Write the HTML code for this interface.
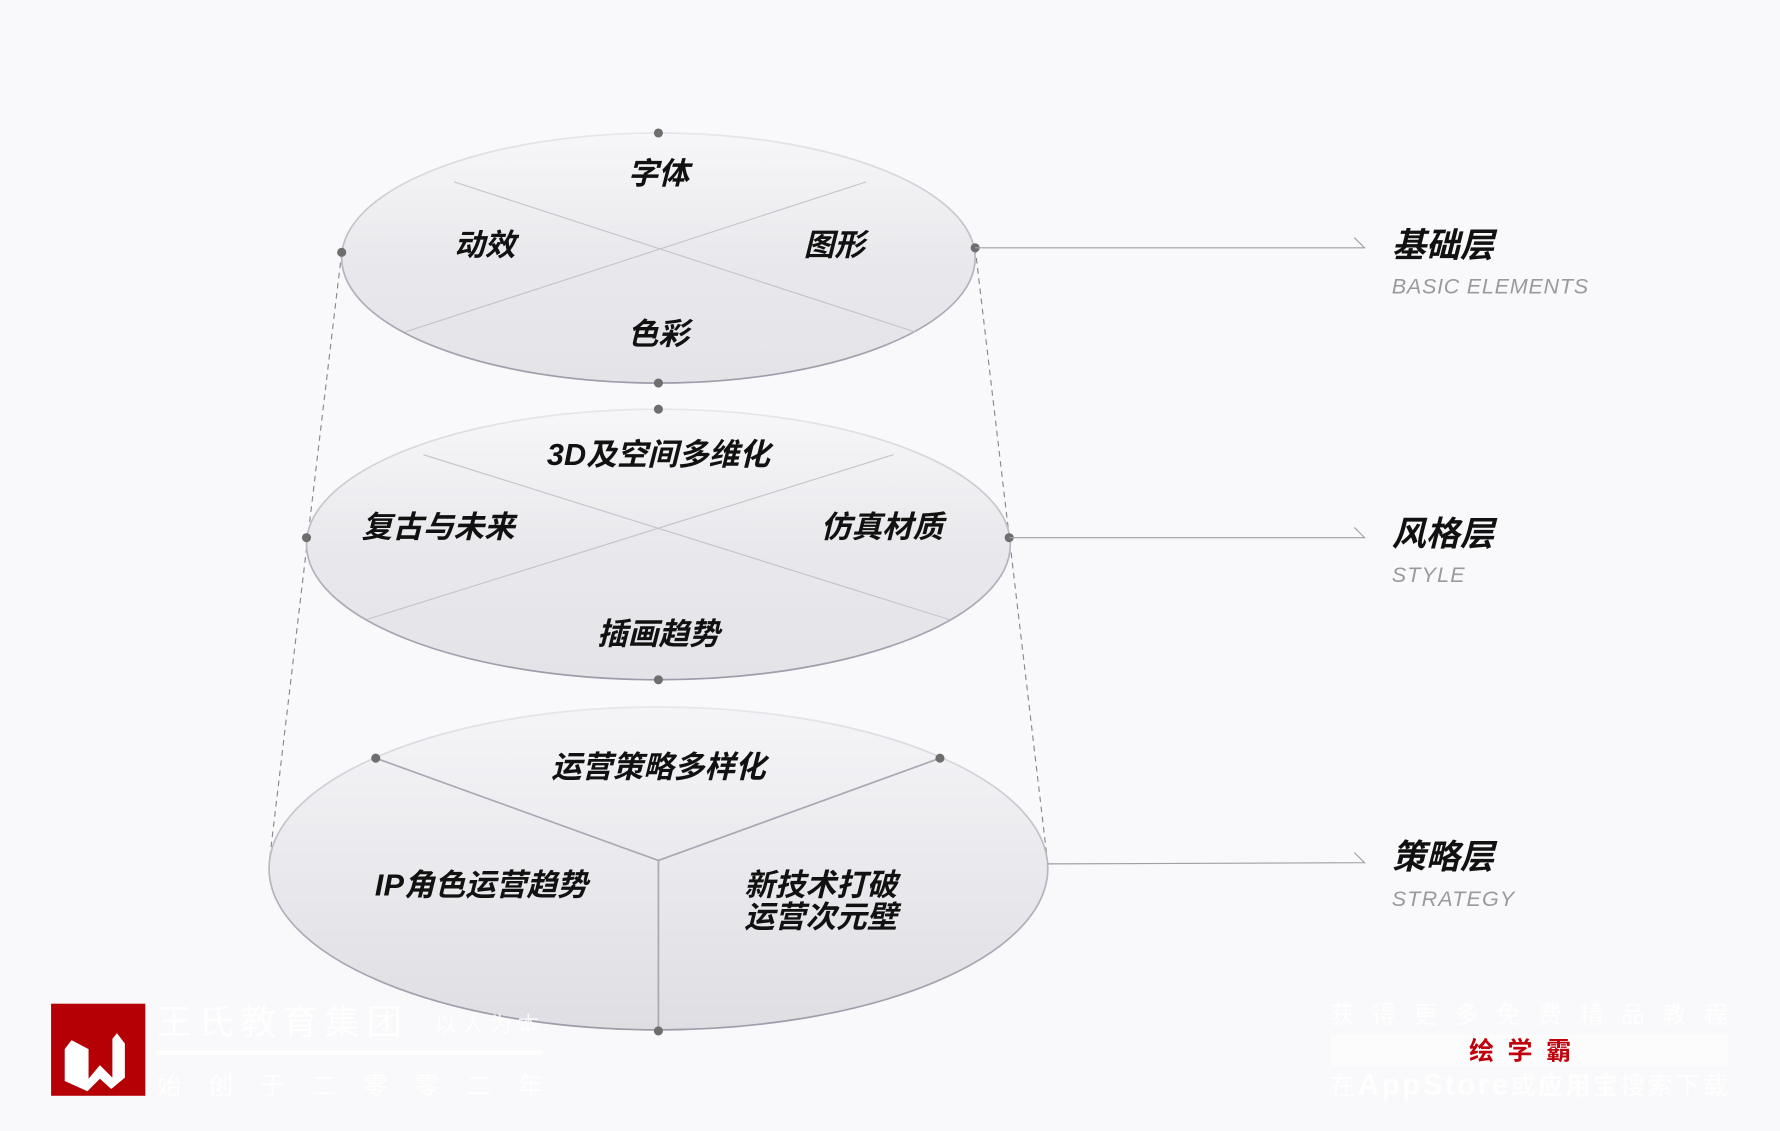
<!DOCTYPE html>
<html><head><meta charset="utf-8"><style>
html,body{margin:0;padding:0;background:#f9f9fb;}
svg{display:block}
.t{font-family:"Liberation Sans","Noto Sans CJK SC",sans-serif;font-weight:bold;font-style:italic;fill:#111;text-anchor:middle}
.h{font-family:"Liberation Sans","Noto Sans CJK SC",sans-serif;font-weight:bold;font-style:italic;fill:#111}
.s{font-family:"Liberation Sans",sans-serif;font-style:italic;fill:#9a9a9a;letter-spacing:1px}
.w{font-family:"Liberation Sans","Noto Sans CJK SC",sans-serif;fill:#fff}
</style></head><body>
<svg width="1780" height="1131" viewBox="0 0 1568 995" preserveAspectRatio="none">
<defs>
<linearGradient id="g" x1="0" y1="0" x2="0" y2="1">
<stop offset="0" stop-color="#f7f7f9"/><stop offset="0.5" stop-color="#e9e9ed"/><stop offset="1" stop-color="#e4e4e8"/>
</linearGradient>
<linearGradient id="g2" x1="0" y1="0" x2="0" y2="1">
<stop offset="0" stop-color="#f5f5f8"/><stop offset="1" stop-color="#dedee3"/>
</linearGradient>
<linearGradient id="sg" x1="0" y1="0" x2="0" y2="1">
<stop offset="0" stop-color="#e6e6ec"/><stop offset="0.5" stop-color="#b8b8c2"/><stop offset="1" stop-color="#9c9caa"/>
</linearGradient>
</defs>
<rect width="1568" height="995" fill="#f9f9fb"/>
<line x1="301" y1="222" x2="237" y2="760" stroke="#888" stroke-dasharray="5,4" stroke-width="1"/>
<line x1="859" y1="218" x2="923" y2="760" stroke="#888" stroke-dasharray="5,4" stroke-width="1"/>
<ellipse cx="580" cy="764" rx="343" ry="142" fill="url(#g2)" stroke="url(#sg)" stroke-width="1.5"/>
<polyline points="331,667 580,757 828,667" fill="none" stroke="#a9a9b4" stroke-width="1.5"/>
<line x1="580" y1="757" x2="580" y2="907" stroke="#a9a9b4" stroke-width="1.5"/>
<ellipse cx="580" cy="479" rx="310" ry="119" fill="url(#g)" stroke="url(#sg)" stroke-width="1.5"/>
<line x1="323" y1="545" x2="787" y2="400" stroke="#c4c4cc" stroke-width="1"/>
<line x1="373" y1="400" x2="836" y2="545" stroke="#c4c4cc" stroke-width="1"/>
<ellipse cx="580" cy="227" rx="279" ry="110" fill="url(#g)" stroke="url(#sg)" stroke-width="1.5"/>
<line x1="357" y1="292" x2="763" y2="160" stroke="#c4c4cc" stroke-width="1"/>
<line x1="400" y1="160" x2="806" y2="292" stroke="#c4c4cc" stroke-width="1"/>
<g fill="#6e6e6e">
<circle cx="580" cy="117" r="4"/><circle cx="580" cy="337" r="4"/><circle cx="301" cy="222" r="4"/><circle cx="859" cy="218" r="4"/>
<circle cx="580" cy="360" r="4"/><circle cx="580" cy="598" r="4"/><circle cx="270" cy="473" r="4"/><circle cx="889" cy="473" r="4"/>
<circle cx="331" cy="667" r="4"/><circle cx="828" cy="667" r="4"/><circle cx="580" cy="907" r="4"/>
</g>
<g stroke="#a0a0a0" stroke-width="1" fill="none">
<polyline points="859,218 1202,218 1193,209"/>
<polyline points="889,473 1202,473 1193,464"/>
<polyline points="923,760 1202,759 1193,750"/>
</g>
<g class="t" font-size="27">
<text x="580" y="162">字体</text>
<text x="427" y="225">动效</text>
<text x="735" y="225">图形</text>
<text x="580" y="303">色彩</text>
<text x="580" y="409">3D及空间多维化</text>
<text x="386" y="473">复古与未来</text>
<text x="777" y="473">仿真材质</text>
<text x="580" y="567">插画趋势</text>
<text x="580" y="684">运营策略多样化</text>
<text x="424" y="788">IP角色运营趋势</text>
<text x="723" y="788">新技术打破</text>
<text x="723" y="816">运营次元壁</text>
</g>
<g class="h" font-size="30">
<text x="1226" y="226">基础层</text>
<text x="1226" y="480">风格层</text>
<text x="1226" y="764">策略层</text>
</g>
<g class="s" font-size="19">
<text x="1226" y="258" textLength="174">BASIC ELEMENTS</text>
<text x="1226" y="512">STYLE</text>
<text x="1226" y="797">STRATEGY</text>
</g>
<rect x="45" y="883" width="83" height="81" fill="#b50006"/>
<path d="M57 923 L63 915 L78 923 L78 949 L88 937 L99 948 L99 914 L103 909 L110 918 L110 948 L98 958 L88 949 L77 960 L57 951 Z" fill="#fff"/>
<g class="w" opacity="0.85">
<text x="138" y="910" font-size="31" textLength="216">王氏教育集团</text>
<text x="383" y="908" font-size="19" textLength="92">以人为本</text>
<rect x="138" y="924" width="340" height="4"/>
<text x="138" y="963" font-size="22" textLength="340">始创于二零零二年</text>
<text x="1172" y="900" font-size="21" textLength="350">获得更多免费精品教程</text>
<rect x="1172" y="910" width="350" height="28" fill="#fff" opacity="0.6"/>
<text x="1172" y="963" font-size="22" textLength="350">在<tspan font-weight="bold" font-size="26">AppStore</tspan>或<tspan font-weight="bold">应用宝</tspan>搜索下载</text>
</g>
<text x="1345" y="932" font-size="22" font-weight="bold" fill="#c0000a" text-anchor="middle" font-family="Liberation Sans,Noto Sans CJK SC,sans-serif" letter-spacing="12">绘学霸</text>
</svg>
</body></html>
